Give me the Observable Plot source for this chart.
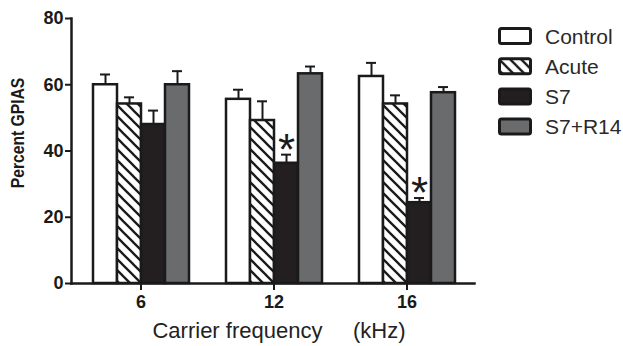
<!DOCTYPE html>
<html>
<head>
<meta charset="utf-8">
<script src="https://cdn.jsdelivr.net/npm/d3@7"></script>
<script src="https://cdn.jsdelivr.net/npm/@observablehq/plot@0.6"></script>
<style>
  html, body { margin: 0; padding: 0; background: #fff; }
  #wrap { position: relative; width: 623px; height: 346px; overflow: hidden; font-family: "Liberation Sans", Arial, sans-serif; }
  #legend { position: absolute; left: 0; top: 0; }
  #ylabel { position: absolute; left: 18px; top: 133px; transform: translate(-50%, -50%) rotate(-90deg) scaleX(0.87);
            font-size: 18px; font-weight: bold; color: #1a1a1a; white-space: nowrap; line-height: 1; }
</style>
</head>
<body>
<svg width="0" height="0" style="position:absolute">
  <defs>
    <pattern id="hatch" patternUnits="userSpaceOnUse" width="11" height="11">
      <rect width="11" height="11" fill="#fff"></rect>
      <path d="M-3,8 L3,14 M0,0 L11,11 M8,-3 L14,3" stroke="#1a1a1a" stroke-width="2.3"></path>
    </pattern>
  </defs>
</svg>
<div id="wrap"></div>
<script>
const groups = ["6", "12", "16"];
const series = ["Control", "Acute", "S7", "S7+R14"];
const control    = [60.0, 55.6, 62.5];
const controlErr = [3.1, 2.9, 4.1];
const acute      = [54.2, 49.2, 54.2];
const acuteErr   = [2.0, 5.8, 2.6];
const s7         = [48.0, 36.3, 24.4];
const s7Err      = [4.2, 2.6, 1.4];
const s7r14      = [60.0, 63.3, 57.6];
const s7r14Err   = [4.1, 2.2, 1.7];
const s7Stars    = ["", "*", "*"];
const yTicks = [0, 20, 40, 60, 80];
const fills = ["#ffffff", "url(#hatch)", "#231f20", "#6a6b6d"];
const yLabel = "Percent GPIAS";
const xLabel = "Carrier frequency\u00a0\u00a0\u00a0\u00a0 (kHz)";

const valueSets = [control, acute, s7, s7r14];
const errSets = [controlErr, acuteErr, s7Err, s7r14Err];
const rows = [];
groups.forEach((g, gi) => {
  series.forEach((s, si) => {
    rows.push({
      group: g, series: s,
      value: valueSets[si][gi], err: errSets[si][gi],
      star: s === "S7" ? s7Stars[gi] : ""
    });
  });
});

const ink = "#1a1a1a";
const axisShift = -21;
const chart = Plot.plot({
  width: 623, height: 346,
  marginLeft: 91, marginRight: 168, marginTop: 18, marginBottom: 63,
  style: { fontFamily: '"Liberation Sans", Arial, sans-serif', color: ink, background: "white", overflow: "visible" },
  fx: { domain: groups, paddingInner: 0.2726, paddingOuter: 0, label: null },
  x: { domain: series, padding: 0, axis: null },
  y: { domain: [0, 80], label: null },
  color: { domain: series, range: fills },
  marks: [
    Plot.ruleX(rows, { fx: "group", x: "series", y1: "value", y2: d => d.value + d.err, stroke: ink, strokeWidth: 2 }),
    Plot.tickY(rows, { fx: "group", x: "series", y: d => d.value + d.err, stroke: ink, strokeWidth: 2, insetLeft: 7, insetRight: 7 }),
    Plot.barY(rows, { fx: "group", x: "series", y: "value", fill: "series", stroke: ink, strokeWidth: 2.5 }),
    Plot.text(rows.filter(d => d.star), { fx: "group", x: "series", y: d => d.value + d.err, text: "star", fontSize: 44, lineAnchor: "bottom", dy: 10, fill: ink }),
    Plot.frame({ anchor: "bottom", facet: "super", stroke: ink, strokeWidth: 2.5, insetLeft: axisShift, insetRight: -19 }),
    Plot.frame({ anchor: "left", facet: "super", stroke: ink, strokeWidth: 2.5, insetLeft: axisShift }),
    Plot.axisY({ ticks: yTicks, tickSize: 6, tickPadding: 2, fontSize: 18, fontWeight: "bold", label: null, stroke: ink, strokeWidth: 2, dx: axisShift }),
    Plot.axisFx({ anchor: "bottom", tickSize: 7, tickPadding: 5, fontSize: 18, fontWeight: "bold", label: null, stroke: ink, strokeWidth: 2 }),
    Plot.text([xLabel], { frameAnchor: "bottom", facet: "super", lineAnchor: "bottom", dx: 5, dy: 54, fontSize: 22, fill: "#222" })
  ]
});
const wrap = document.getElementById("wrap");
wrap.appendChild(chart);

const yl = document.createElement("div");
yl.id = "ylabel";
yl.textContent = yLabel;
wrap.appendChild(yl);

// legend
const legend = d3.select("#wrap").append("svg")
  .attr("id", "legend").attr("width", 623).attr("height", 346);
const item = legend.selectAll("g").data(series).join("g")
  .attr("transform", (d, i) => `translate(0, ${36 + i * 30.2})`);
item.append("rect")
  .attr("x", 499.5).attr("y", -7.5).attr("width", 31).attr("height", 15).attr("rx", 2)
  .attr("fill", (d, i) => fills[i]).attr("stroke", ink).attr("stroke-width", 3);
item.append("text")
  .attr("x", 545).attr("y", 7.5)
  .attr("font-size", 21).attr("fill", "#2a2a2a")
  .attr("font-family", '"Liberation Sans", Arial, sans-serif')
  .text(d => d);
</script>
</body>
</html>
